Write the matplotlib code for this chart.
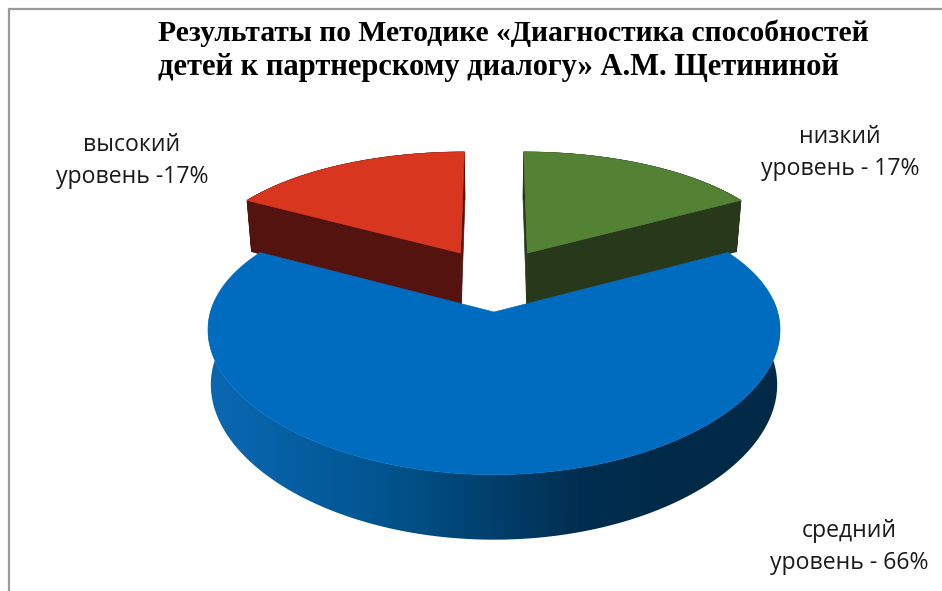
import numpy as np
import matplotlib
matplotlib.use("Agg")
import matplotlib.pyplot as plt
from matplotlib.collections import PolyCollection
from matplotlib.colors import LinearSegmentedColormap
from matplotlib.patches import Polygon

# Shares of each level, clockwise from twelve o'clock
levels = ["низкий", "средний", "высокий"]
shares = [17, 66, 17]
label_texts = ["низкий\nуровень - 17%", "средний\nуровень - 66%", "высокий\nуровень -17%"]
title_lines = ["Результаты по Методике «Диагностика способностей",
               "детей к партнерскому диалогу» А.М. Щетининой"]

top_colors = ["#548235", "#006CBF", "#D9361F"]
wall_colors = ["#27391A", "#006CBF", "#54130E"]

# Perspective projection of the pie plane onto the canvas
CX, CY = 494.0, 312.0
K_X, K_Y = 283.6, 134.0
PERSP_X, PERSP_Y = 0.13, 0.176
DEPTH = 53.6  # height of the extruded pie


def project(u, v, floor=False, depth=DEPTH, floor_scale=0.99):
    u, v = np.asarray(u, float), np.asarray(v, float)
    wx = 1 + PERSP_X * v
    wy = 1 + PERSP_Y * v
    x = K_X * u / wx
    y = K_Y * v / wy
    if floor:
        return CX + x * floor_scale, CY - y + depth / wy
    return CX + x, CY - y


fig = plt.figure(figsize=(9.42, 5.91), dpi=100, facecolor="white")
ax = fig.add_axes([0, 0, 1, 1])
ax.axis("off")

# Chart frame: only the left and top borders fall inside the canvas
ax.plot([8.5, 8.5, 942], [591, 8.5, 8.5], color="#9A9A9A", lw=1.6, zorder=1,
        solid_joinstyle="miter")

fractions = np.array(shares, float) / sum(shares)
edges = np.concatenate([[0], np.cumsum(fractions)]) * 2 * np.pi

# Centre offsets of the pulled-out slices, in pie-plane units
offsets = [(0.125, 0.477), (0.0, 0.0), (-0.125, 0.477)]
radii_u = [0.977, 1.0, 0.977]
radii_v = [1.035, 1.0, 1.035]

side_cmap = LinearSegmentedColormap.from_list(
    "side", [(0.0, "#0A68B2"), (0.1, "#0762A8"), (0.3, "#02558F"),
             (0.5, "#013F6C"), (0.65, "#012E50"), (0.8, "#002A48"), (1.0, "#002A48")])

for i in [2, 0, 1]:
    c = offsets[i]
    a = np.linspace(edges[i], edges[i + 1], 400)
    u = c[0] + radii_u[i] * np.sin(a)
    v = c[1] + radii_v[i] * np.cos(a)
    uu = np.concatenate([[c[0]], u])
    vv = np.concatenate([[c[1]], v])
    tx, ty = project(uu, vv)
    if i == 1:
        # Outer wall of the large slice: a horizontal gradient clipped to the rim
        front = v < 0.1
        ox, oy = project(u[front], v[front])
        px, py = project(u[front], v[front], floor=True)
        outline = np.column_stack([np.concatenate([ox, px[::-1]]),
                                   np.concatenate([oy, py[::-1]])])
        grad = np.linspace(0, 1, 572)[None, :]
        im = ax.imshow(grad, cmap=side_cmap, vmin=0, vmax=1, aspect="auto",
                       extent=(208, 780, 560, 300), zorder=3, interpolation="bilinear")
        clip = Polygon(outline, closed=True, transform=ax.transData, fc="none", ec="none")
        ax.add_patch(clip)
        im.set_clip_path(clip)
    else:
        # Walls of the small slices: every edge of the wedge extruded downwards
        bx, by = project(uu, vv, floor=True, depth=DEPTH * 1.12, floor_scale=0.982)
        n = len(tx)
        quads = [[(tx[j], ty[j]), (tx[(j + 1) % n], ty[(j + 1) % n]),
                  (bx[(j + 1) % n], by[(j + 1) % n]), (bx[j], by[j])] for j in range(n)]
        ax.add_collection(PolyCollection(quads, facecolors=wall_colors[i],
                                         edgecolors=wall_colors[i], linewidths=0.5, zorder=2))
    ax.fill(tx, ty, color=top_colors[i], lw=0.4, zorder=4 if i == 1 else 2.5)

ax.set_xlim(0, 942)
ax.set_ylim(591, 0)

# Level labels
label_font = ["Open Sans", "DejaVu Sans"]
label_pos = {"низкий": (840, 137), "средний": (849, 531), "высокий": (132, 145)}
for name, txt in zip(levels, label_texts):
    first, second = txt.split("\n")
    x, y = label_pos[name]
    for k, part in enumerate((first, second)):
        ax.text(x, y + 32 * k, part, ha="center", va="center", fontsize=16.6,
                color="#1A1A1A", family=label_font, zorder=6)

# Two-line title, flush left
for line, y, size in zip(title_lines, [33, 68], [21.3, 22.0]):
    ax.text(157.5, y, line, ha="left", va="center", fontsize=size, fontweight="bold",
            family=["Liberation Serif", "DejaVu Serif"], color="black", zorder=6)

fig.savefig("out.png", dpi=100, facecolor="white")
